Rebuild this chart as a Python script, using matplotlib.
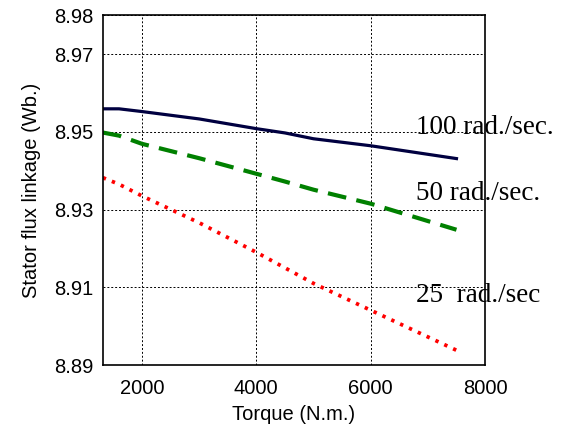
import numpy as np
import matplotlib
matplotlib.use('Agg')
import matplotlib.pyplot as plt

# data
torque = [1316, 1600, 2000, 3000, 4000, 4500, 5000, 6000, 7500]
flux_100 = [8.9559, 8.9559, 8.9552, 8.9533, 8.9508, 8.9497, 8.9482, 8.9464, 8.9431]
flux_50 = [8.9498, 8.9490, 8.9469, 8.9432, 8.9392, 8.9372, 8.9351, 8.9315, 8.9248]
flux_25 = [8.9382, 8.9365, 8.9335, 8.9266, 8.9190, 8.9150, 8.9110, 8.9041, 8.8938]

xticks = [2000, 4000, 6000, 8000]
yticks = [8.89, 8.91, 8.93, 8.95, 8.97, 8.98]
labels = ['100 rad./sec.', '50 rad./sec.', '25  rad./sec']

fig = plt.figure(figsize=(5.68, 4.32), dpi=100)
ax = fig.add_axes([0.181, 0.155, 0.673, 0.810])

ax.plot(torque, flux_100, color='#000040', lw=2.3)
ax.plot(torque, flux_50, color='#008000', lw=3, linestyle=(0, (4.5, 2.5)))
ax.plot(torque, flux_25, color='#ff0000', lw=2.7, linestyle=(0, (0.9, 1.7)))

ax.set_xlim(1316, 8000)
ax.set_ylim(8.89, 8.98)
ax.set_xticks(xticks)
ax.set_yticks(yticks)
ax.set_yticklabels(['%.2f' % v for v in yticks])
ax.grid(True, color='black', linestyle=(0, (2, 2)), lw=0.7)
ax.tick_params(labelsize=14.5, length=0)
ax.tick_params(axis='x', pad=10)
ax.tick_params(axis='y', pad=7)
for lab in ax.get_xticklabels() + ax.get_yticklabels():
    lab.set_family('Liberation Sans')
for sp in ax.spines.values():
    sp.set_linewidth(1.2)

ax.set_xlabel('Torque (N.m.)', fontsize=14.5, family='Liberation Sans', labelpad=5)
ax.set_ylabel('Stator flux linkage (Wb.)', fontsize=14.5, family='Liberation Sans', labelpad=9)

# curve labels (placed in data coordinates, spill past the right spine)
for lab, y in zip(labels, [8.9512, 8.9340, 8.9078]):
    ax.text(6790, y, lab, fontsize=19.5, family='Liberation Serif',
            va='center', ha='left', clip_on=False)

fig.savefig('out.png', dpi=100)
